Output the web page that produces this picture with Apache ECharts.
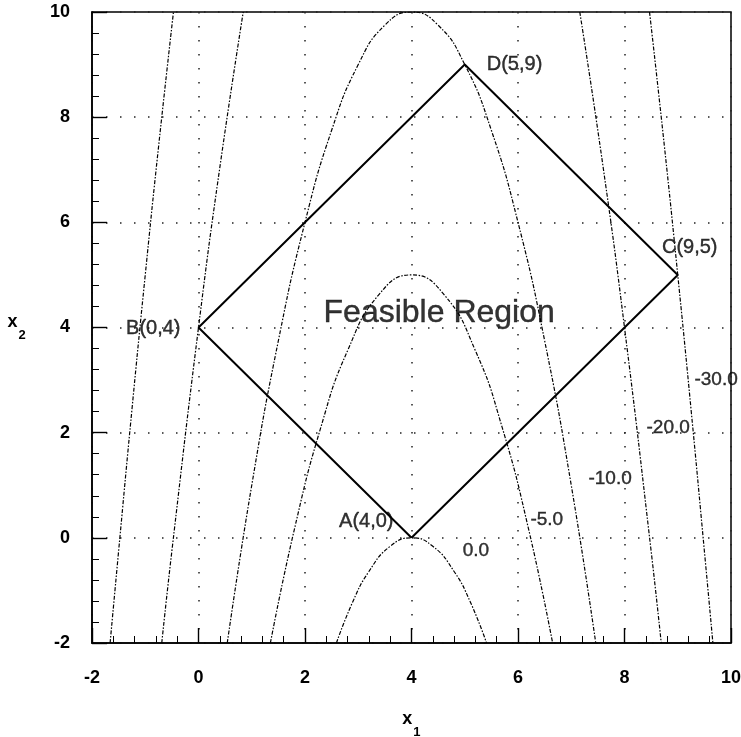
<!DOCTYPE html>
<html>
<head>
<meta charset="utf-8">
<script src="https://cdn.jsdelivr.net/npm/echarts@6/dist/echarts.min.js"></script>
<style>
  html, body { margin: 0; padding: 0; background: #fff; }
  #chart { width: 741px; height: 737px; }
</style>
</head>
<body>
<div id="chart"></div>
<script>
// Tick labels of both axes
var xTicks = [-2, 0, 2, 4, 6, 8, 10];
var yTicks = [-2, 0, 2, 4, 6, 8, 10];

// Corners of the feasible region (drawn A -> B -> D -> C -> A)
var vertexNames = ['A(4,0)', 'B(0,4)', 'D(5,9)', 'C(9,5)'];
var vertexX = [4, 0, 5, 9];
var vertexY = [0, 4, 9, 5];

// Contour lines, points [x1, x2]
var contour0 = [[2.59, -2], [2.9, -1.21], [3.2, -0.64], [3.6, -0.16], [4, 0], [4.4, -0.16], [4.8, -0.64], [5.1, -1.21], [5.41, -2]];
var contour5 = [[1.35, -2], [1.8, 0.16], [2.3, 2.11], [2.8, 3.56], [3.4, 4.64], [4, 5], [4.6, 4.64], [5.2, 3.56], [5.7, 2.11], [6.2, 0.16], [6.65, -2]];
var contour10 = [[0.54, -2], [1, 1], [1.5, 3.75], [2, 6], [2.5, 7.75], [3, 9], [3.5, 9.75], [4, 10], [4.5, 9.75], [5, 9], [5.5, 7.75], [6, 6], [6.5, 3.75], [7, 1], [7.46, -2]];
var contour20Left = [[-0.69, -2], [-0.5, -0.25], [0, 4], [0.4, 7.04], [0.84, 10]];
var contour20Right = [[7.16, 10], [7.6, 7.04], [8, 4], [8.5, -0.25], [8.69, -2]];
var contour30Left = [[-1.66, -2], [-1.5, -0.25], [-1.25, 2.44], [-1, 5], [-0.75, 7.44], [-0.47, 10]];
var contour30Right = [[8.47, 10], [8.75, 7.44], [9, 5], [9.25, 2.44], [9.5, -0.25], [9.66, -2]];

// Contour level labels
var levelNames = ['0.0', '-5.0', '-10.0', '-20.0', '-30.0'];
var levelX = [5.21, 6.54, 7.73, 8.82, 9.72];
var levelY = [-0.25, 0.34, 1.12, 2.10, 3.01];

// Region label
var regionName = 'Feasible Region';
var regionX = 4.52;
var regionY = 4.28;

document.addEventListener('DOMContentLoaded', function () {
    var chart = echarts.init(document.getElementById('chart'));
    var font = "'Liberation Sans', Arial, Helvetica, sans-serif";

    // label placement for each corner (same order as vertexNames)
    var vertexLabelStyle = [
        { position: 'left', distance: 18, offset: [0, -16] },
        { position: 'left', distance: 18, offset: [0, 1] },
        { position: 'right', distance: 22, offset: [0, 0] },
        { position: 'top', distance: 17, offset: [12, 0] }
    ];

    var diamond = [];
    for (var i = 0; i < vertexNames.length; i++) {
        diamond.push([vertexX[i], vertexY[i]]);
    }
    diamond.push([vertexX[0], vertexY[0]]);

    var vertexData = vertexNames.map(function (name, i) {
        return {
            name: name,
            value: [vertexX[i], vertexY[i]],
            label: vertexLabelStyle[i]
        };
    });

    var levelData = levelNames.map(function (name, i) {
        return { name: name, value: [levelX[i], levelY[i]] };
    });

    function contourSeries(points) {
        return {
            type: 'line',
            data: points,
            symbol: 'none',
            smooth: true,
            silent: true,
            lineStyle: { color: '#000', width: 1.2, type: [4, 1.6, 1.5, 1.6] },
            z: 2
        };
    }

    // x with a dropped subscript; g is an empty spacer that sets the line height
    function nameRich() {
        return {
            x: { fontFamily: font, fontWeight: 'bold', fontSize: 18, lineHeight: 18, verticalAlign: 'top', color: '#000' },
            s: { fontFamily: font, fontWeight: 'bold', fontSize: 13, lineHeight: 14, verticalAlign: 'bottom', color: '#000', padding: [0, 0, 0, 1] },
            g: { fontSize: 1, lineHeight: 29 }
        };
    }

    var axisCommon = {
        type: 'value',
        min: -2,
        max: 10,
        interval: 2,
        axisLine: { onZero: false, lineStyle: { color: '#000', width: 1.6 } },
        axisTick: { inside: true, length: 15, lineStyle: { color: '#000', width: 1.4 } },
        minorTick: { show: true, splitNumber: 5, length: 7, lineStyle: { color: '#000', width: 1 } },
        splitLine: { show: true, lineStyle: { color: '#222', width: 1.5, type: [1.5, 12.5] } },
        axisLabel: {
            color: '#000',
            fontFamily: font,
            fontWeight: 'bold',
            fontSize: 18
        }
    };

    var plainLabel = {
        show: true,
        formatter: '{b}',
        color: '#000',
        fontFamily: font,
        textBorderColor: '#000',
        textBorderWidth: 0.4
    };

    var option = {
        animation: false,
        backgroundColor: '#fff',
        grid: {
            left: 92,
            right: 10,
            top: 12,
            bottom: 94,
            outerBoundsMode: 'none',
            show: true,
            borderColor: '#000',
            borderWidth: 1.5
        },
        xAxis: Object.assign({}, axisCommon, {
            name: '{x|x}{s|1}{g| }',
            nameLocation: 'middle',
            nameGap: 67,
            nameTextStyle: { rich: nameRich() },
            axisLabel: Object.assign({}, axisCommon.axisLabel, {
                margin: 26,
                formatter: function (v) { return xTicks.indexOf(v) >= 0 ? String(v) : ''; }
            })
        }),
        yAxis: Object.assign({}, axisCommon, {
            name: '{x|x}{s|2}{g| }',
            nameLocation: 'middle',
            nameRotate: 0,
            nameGap: 66,
            nameTextStyle: { rich: nameRich() },
            axisLabel: Object.assign({}, axisCommon.axisLabel, {
                margin: 22,
                formatter: function (v) { return yTicks.indexOf(v) >= 0 ? String(v) : ''; }
            })
        }),
        series: [
            contourSeries(contour0),
            contourSeries(contour5),
            contourSeries(contour10),
            contourSeries(contour20Left),
            contourSeries(contour20Right),
            contourSeries(contour30Left),
            contourSeries(contour30Right),
            {
                // feasible region outline
                type: 'line',
                data: diamond,
                symbol: 'none',
                silent: true,
                lineStyle: { color: '#000', width: 2 },
                z: 3
            },
            {
                // corner labels
                type: 'scatter',
                data: vertexData,
                symbolSize: 0,
                silent: true,
                label: Object.assign({}, plainLabel, { fontSize: 20 }),
                z: 4
            },
            {
                // contour level labels
                type: 'scatter',
                data: levelData,
                symbolSize: 0,
                silent: true,
                label: Object.assign({}, plainLabel, { position: 'inside', fontSize: 19 }),
                z: 4
            },
            {
                type: 'scatter',
                data: [{ name: regionName, value: [regionX, regionY] }],
                symbolSize: 0,
                silent: true,
                label: Object.assign({}, plainLabel, { position: 'inside', fontSize: 32 }),
                z: 4
            }
        ]
    };

    chart.setOption(option);
});
</script>
</body>
</html>
